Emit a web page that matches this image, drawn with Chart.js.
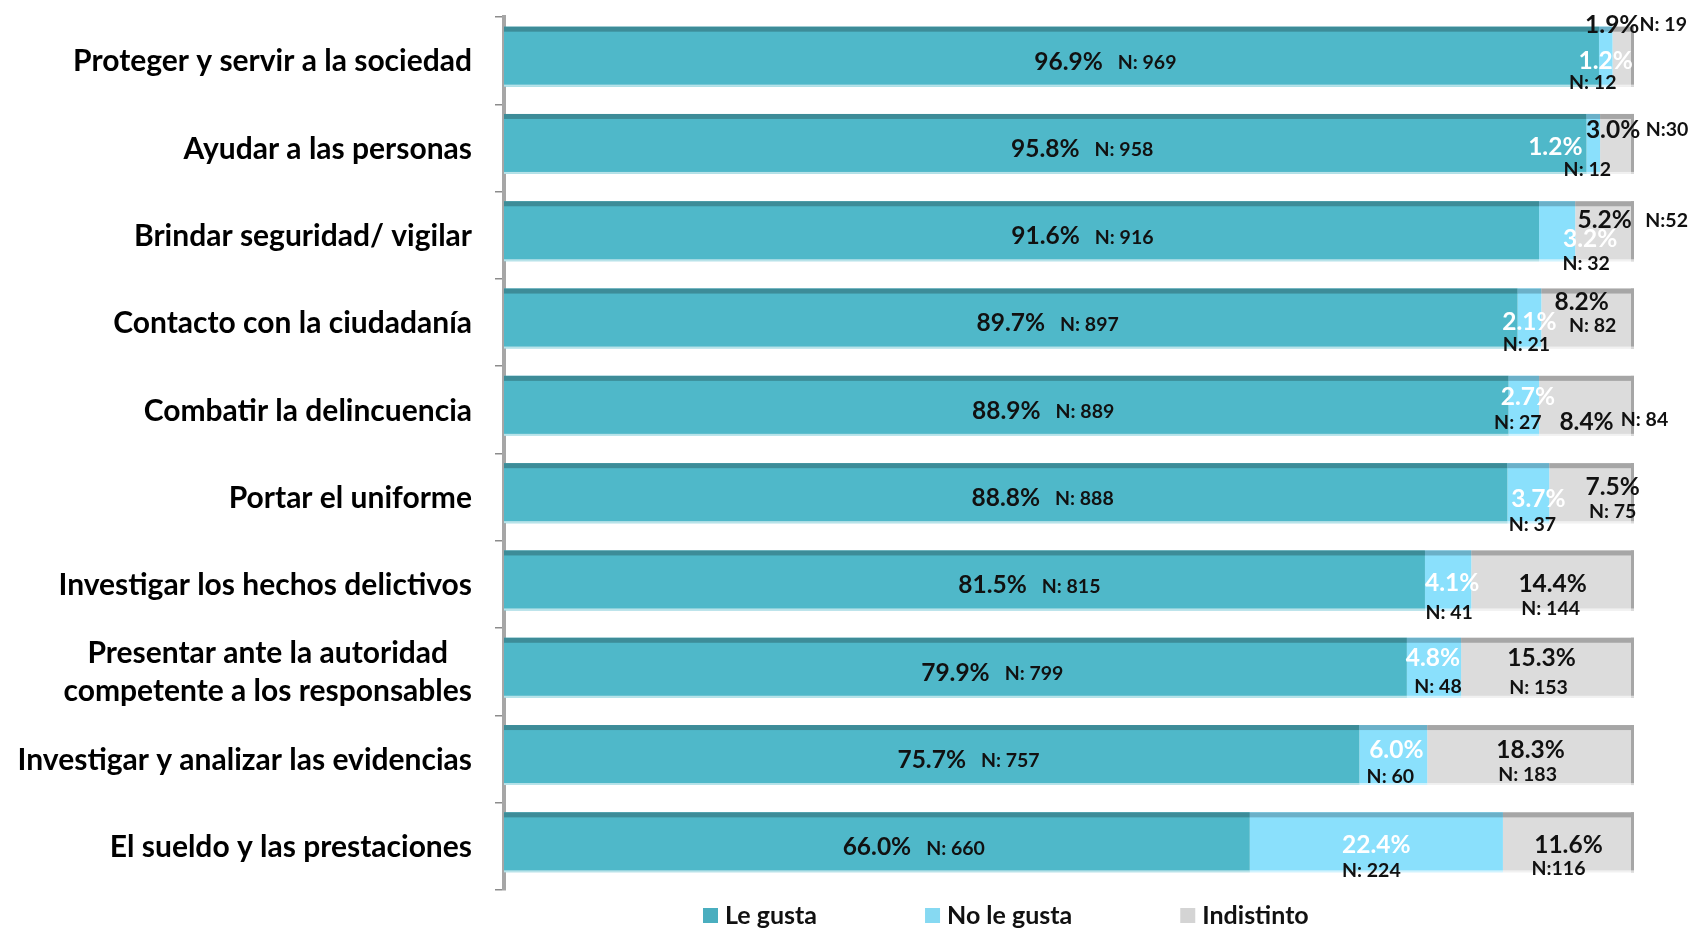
<!DOCTYPE html>
<html><head><meta charset="utf-8">
<script src="https://cdn.jsdelivr.net/npm/chart.js@4/dist/chart.umd.min.js"></script>
<style>html,body{margin:0;padding:0;background:#fff;}</style>
</head><body>
<canvas id="c" width="1693" height="928"></canvas>
<script>
const categories = [
  'Proteger y servir a la sociedad',
  'Ayudar a las personas',
  'Brindar seguridad/ vigilar',
  'Contacto con la ciudadanía',
  'Combatir la delincuencia',
  'Portar el uniforme',
  'Investigar los hechos delictivos',
  ['Presentar ante la autoridad', 'competente a los responsables'],
  'Investigar y analizar las evidencias',
  'El sueldo y las prestaciones'
];
const seriesNames = ['Le gusta', 'No le gusta', 'Indistinto'];
const leGusta    = [96.9, 95.8, 91.6, 89.7, 88.9, 88.8, 81.5, 79.9, 75.7, 66.0];
const noLeGusta  = [1.2, 1.2, 3.2, 2.1, 2.7, 3.7, 4.1, 4.8, 6.0, 22.4];
const indistinto = [1.9, 3.0, 5.2, 8.2, 8.4, 7.5, 14.4, 15.3, 18.3, 11.6];
const nLeGusta    = [969, 958, 916, 897, 889, 888, 815, 799, 757, 660];
const nNoLeGusta  = [12, 12, 32, 21, 27, 37, 41, 48, 60, 224];
const nIndistinto = [19, 30, 52, 82, 84, 75, 144, 153, 183, 116];
const nIndistintoSep = [' ', '', '', ' ', ' ', ' ', ' ', ' ', ' ', ''];

// label placement tweaks (pixels, relative to segment centre / category centre)
const lePctDx = [17, 0, 24, 0, 0, 0, 28, 0, 0, 0];
const noLayout = [ // [pctDx, pctDy, nDx, nDy]
  [0, 0, -13, 22], [-38, -1, -6, 22], [33, 4, 29, 28], [0, 0, -3, 22], [4, -13, -6, 13],
  [10, 2, 4, 28], [4, -1, 1, 28], [-1, -14, 4, 15], [3, -9, -3, 18], [0, -1, -5, 24]
];
const indLayout = [
  [-11, -36, 40, -36], [-4, -18, 50, -18], [0, -15, 62, -15], [-6, -20, 5, 3], [0, 12, 58, 10],
  [21, -10, 21, 15], [0, 0, -2, 24], [-6, -14, -9, 16], [0, -9, -3, 16], [0, -1, -10, 22]
];

const FONT = 'Lato, "Open Sans", "DejaVu Sans", sans-serif';
const colors = ['#4FB8C9', '#8AE0FC', '#DCDCDC'];
const topColors = ['#3D8C98', '#6BB0C8', '#A6A6A6'];
const legendColors = ['#4AAEBF', '#86D9F2', '#D4D4D4'];
const BAR_SHIFT = -4;

const shiftPlugin = {
  id: 'shift3d',
  beforeDatasetsDraw(chart) {
    chart.ctx.save();
    chart.ctx.translate(0, BAR_SHIFT);
  },
  afterDatasetsDraw(chart) {
    const ctx = chart.ctx;
    chart.data.datasets.forEach((ds, d) => {
      const meta = chart.getDatasetMeta(d);
      meta.data.forEach((el) => {
        const h = el.height;
        const top = el.y - h / 2;
        const l = Math.min(el.x, el.base), r = Math.max(el.x, el.base);
        ctx.fillStyle = topColors[d];
        ctx.fillRect(l, top, r - l, 5);
        if (d === chart.data.datasets.length - 1) {
          ctx.fillStyle = '#A6A6A6';
          ctx.fillRect(r - 3, top, 3, h);
        }
        ctx.fillStyle = 'rgba(255,255,255,0.6)';
        ctx.fillRect(l, top + h - 2, r - l, 2);
      });
    });
    ctx.restore();
  }
};

const labelPlugin = {
  id: 'labels',
  afterDraw(chart) {
    const ctx = chart.ctx;
    const yScale = chart.scales.y;
    ctx.save();
    // category labels
    ctx.fillStyle = '#000';
    ctx.font = 'bold 30px ' + FONT;
    ctx.textBaseline = 'middle';
    const rightEdge = chart.chartArea.left - 32;
    categories.forEach((lab, i) => {
      const y = yScale.getPixelForValue(i) + 1;
      if (Array.isArray(lab)) {
        const widths = lab.map(t => ctx.measureText(t).width);
        const w = Math.max(...widths);
        const cx = rightEdge - w / 2;
        ctx.textAlign = 'center';
        const lh = 38;
        lab.forEach((t, k) => ctx.fillText(t, cx, y + (k - (lab.length - 1) / 2) * lh));
      } else {
        ctx.textAlign = 'right';
        ctx.fillText(lab, rightEdge, y);
      }
    });

    const metas = [0, 1, 2].map(d => chart.getDatasetMeta(d));
    const pct = v => v.toFixed(1) + '%';
    const PCT_FONT = 'bold 24.5px ' + FONT;
    const N_FONT = 'bold 19.5px ' + FONT;
    for (let i = 0; i < categories.length; i++) {
      const cy = yScale.getPixelForValue(i);
      // Le gusta
      let el = metas[0].data[i];
      let cx = (el.x + el.base) / 2 + lePctDx[i];
      ctx.font = PCT_FONT;
      ctx.textAlign = 'center';
      ctx.fillStyle = '#111';
      const t1 = pct(leGusta[i]);
      ctx.fillText(t1, cx, cy + 1);
      const w1 = ctx.measureText(t1).width;
      ctx.font = N_FONT;
      ctx.textAlign = 'left';
      ctx.fillText('N: ' + nLeGusta[i], cx + w1 / 2 + 15, cy + 2);

      // No le gusta
      el = metas[1].data[i];
      cx = (el.x + el.base) / 2;
      const L = noLayout[i];
      ctx.textAlign = 'center';
      ctx.font = PCT_FONT;
      ctx.fillStyle = '#FFFFFF';
      ctx.fillText(pct(noLeGusta[i]), cx + L[0], cy + L[1]);
      ctx.font = N_FONT;
      ctx.fillStyle = '#111';
      ctx.fillText('N: ' + nNoLeGusta[i], cx + L[2], cy + L[3]);

      // Indistinto
      el = metas[2].data[i];
      cx = (el.x + el.base) / 2;
      const M = indLayout[i];
      ctx.font = PCT_FONT;
      ctx.fillStyle = '#111';
      ctx.fillText(pct(indistinto[i]), cx + M[0], cy + M[1]);
      ctx.font = N_FONT;
      ctx.fillText('N:' + nIndistintoSep[i] + nIndistinto[i], cx + M[2], cy + M[3]);
    }

    // legend
    ctx.font = 'bold 25px ' + FONT;
    ctx.textAlign = 'left';
    let x = 703;
    const ly = 915;
    chart.data.datasets.forEach((ds, d) => {
      ctx.fillStyle = legendColors[d];
      ctx.fillRect(x, ly - 7, 15, 15);
      ctx.fillStyle = '#111';
      ctx.fillText(ds.label, x + 22, ly + 1);
      x += 22 + ctx.measureText(ds.label).width + 108;
    });
    ctx.restore();
  }
};

new Chart(document.getElementById('c'), {
  type: 'bar',
  data: {
    labels: categories,
    datasets: [
      { label: seriesNames[0], data: leGusta, backgroundColor: colors[0] },
      { label: seriesNames[1], data: noLeGusta, backgroundColor: colors[1] },
      { label: seriesNames[2], data: indistinto, backgroundColor: colors[2] }
    ]
  },
  options: {
    indexAxis: 'y',
    responsive: false,
    animation: false,
    devicePixelRatio: 1,
    layout: { padding: { top: 17, bottom: 38, right: 59, left: 0 } },
    datasets: { bar: { barPercentage: 0.687, categoryPercentage: 1, borderWidth: 0 } },
    plugins: { legend: { display: false }, tooltip: { enabled: false } },
    scales: {
      x: { stacked: true, min: 0, max: 100, display: false },
      y: {
        stacked: true,
        afterFit(s) { s.width = 504; },
        ticks: { display: false },
        grid: { display: true, drawOnChartArea: false, drawTicks: true, tickLength: 9, color: '#8C8C8C', lineWidth: 1.5, offset: true },
        border: { display: true, color: '#A6A6A6', width: 4 }
      }
    }
  },
  plugins: [shiftPlugin, labelPlugin]
});
</script>
</body></html>
